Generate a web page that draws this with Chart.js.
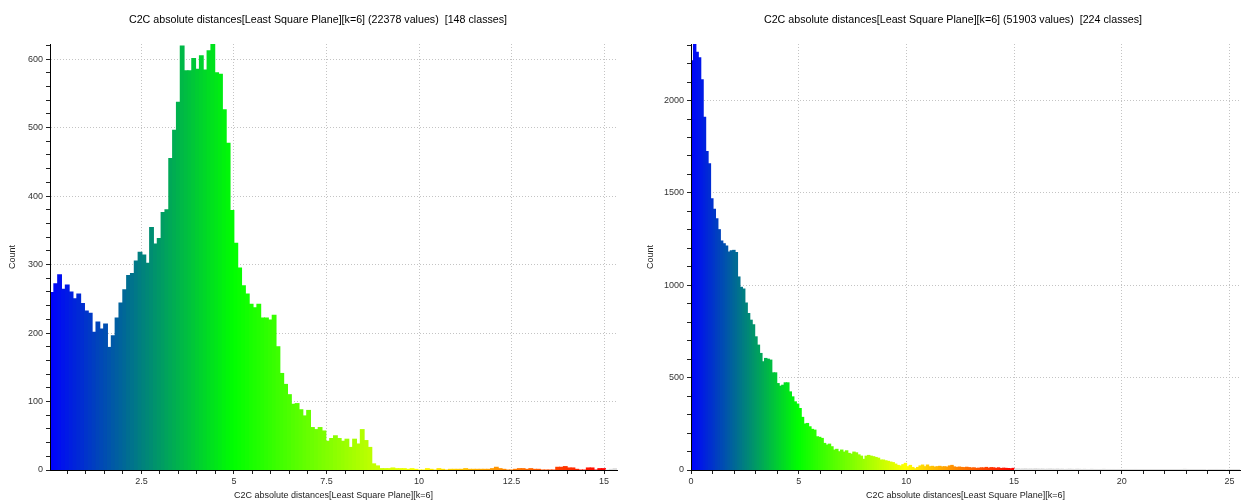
<!DOCTYPE html>
<html>
<head>
<meta charset="utf-8">
<script src="https://cdn.jsdelivr.net/npm/chart.js@4"></script>
<style>
  body { margin: 0; background: #fff; width: 1245px; height: 501px; overflow: hidden; position: relative; }
  canvas { position: absolute; top: 0; }
</style>
</head>
<body>
<canvas id="left-chart" width="636" height="501" style="left:0"></canvas>
<canvas id="right-chart" width="628" height="501" style="left:640px"></canvas>
<script>
//Left histogram (148 classes)
const leftStart = 0.03;
const leftBinWidth = 0.1035;
const leftCounts = [
  259, 272, 285, 264, 270, 260, 250, 257, 243, 232,
  229, 201, 216, 206, 213, 179, 196, 222, 244, 263,
  284, 287, 305, 318, 314, 302, 354, 330, 338, 376,
  380, 455, 496, 537, 619, 583, 583, 601, 585, 605,
  584, 612, 622, 580, 578, 526, 477, 379, 331, 295,
  269, 257, 242, 237, 242, 222, 222, 219, 226, 180,
  141, 125, 110, 96, 97, 88, 79, 87, 62, 59,
  62, 57, 42, 46, 50, 46, 42, 45, 33, 45,
  38, 59, 43, 33, 9, 6, 2, 2, 2, 3,
  2, 2, 2, 1, 2, 1, 0, 0, 2, 1,
  0, 2, 1, 0, 1, 1, 1, 1, 2, 1,
  1, 1, 1, 1, 1, 2, 4, 2, 1, 0,
  0, 1, 2, 2, 1, 2, 1, 1, 0, 0,
  0, 0, 4, 4, 5, 3, 3, 1, 0, 0,
  3, 3, 0, 2, 2, 0, 1, 2,
];
const leftXMajor = [2.5, 5, 7.5, 10, 12.5, 15];
const leftYMajor = [0, 100, 200, 300, 400, 500, 600];

//Right histogram (224 classes)
const rightStart = 0;
const rightBinWidth = 0.1138;
const rightCounts = [
  2216, 2306, 2261, 2231, 2112, 1910, 1724, 1658, 1468, 1411,
  1360, 1301, 1240, 1225, 1213, 1180, 1187, 1189, 1177, 1045,
  989, 980, 904, 847, 811, 786, 721, 676, 631, 586,
  604, 600, 595, 526, 526, 468, 454, 459, 472, 472,
  423, 396, 369, 357, 333, 285, 249, 252, 234, 220,
  216, 180, 177, 171, 144, 135, 140, 126, 108, 112,
  99, 108, 97, 104, 90, 86, 97, 93, 82, 75,
  58, 75, 79, 75, 72, 68, 64, 54, 54, 50,
  47, 43, 40, 32, 25, 22, 29, 36, 18, 25,
  14, 7, 14, 22, 27, 18, 27, 18, 20, 16,
  18, 20, 17, 18, 16, 22, 25, 17, 14, 16,
  14, 13, 15, 13, 11, 12, 9, 10, 12, 11,
  14, 10, 13, 12, 9, 12, 8, 10, 9, 8,
  7, 9, 6, 7, 5, 6, 7, 5, 6, 5,
  7, 6, 5, 6, 4, 5, 6, 5, 4, 6,
  4, 5, 3, 4, 5, 4, 3, 5, 4, 3,
  4, 3, 2, 4, 3, 3, 2, 3, 4, 2,
  3, 2, 3, 2, 3, 2, 2, 3, 1, 2,
  2, 3, 1, 2, 1, 2, 2, 1, 2, 1,
  2, 1, 2, 1, 1, 2, 1, 1, 2, 1,
  3, 4, 3, 2, 1, 2, 1, 1, 2, 1,
  0, 1, 2, 1, 3, 2, 1, 1, 0, 1,
  1, 2, 1, 1,
];
const rightXMajor = [0, 5, 10, 15, 20, 25];
const rightYMajor = [0, 500, 1000, 1500, 2000];

const FONT = "'Liberation Sans', Arial, sans-serif";

//Blue > Green > Yellow > Red, grey above the saturation value
function binColor(v) {
  if (v > 15) return "rgb(222,222,222)";
  let t = Math.max(0, v) / 5;
  let r, g, b;
  if (t <= 1) {
    r = 0; g = 255 * t; b = 255 * (1 - t);
  } else if (t <= 2) {
    r = 255 * (t - 1); g = 255; b = 0;
  } else {
    r = 255; g = 255 * (3 - t); b = 0;
  }
  return `rgb(${Math.round(r)},${Math.round(g)},${Math.round(b)})`;
}

function steps(from, to, step) {
  let out = [];
  for (let i = Math.ceil(from / step - 1e-9); i * step <= to + 1e-9; i++) out.push(+(i * step).toFixed(4));
  return out;
}

//Title drawn at a fixed centre so both headers sit where the original ones do
const headerPlugin = {
  id: "header",
  afterDraw(chart, args, opts) {
    const ctx = chart.ctx;
    ctx.save();
    ctx.font = `${opts.size}px ${FONT}`;
    ctx.fillStyle = "#000";
    ctx.textAlign = "center";
    ctx.textBaseline = "middle";
    ctx.fillText(opts.text, opts.x, opts.y);
    ctx.restore();
  },
};

function makeHistogram(canvasId, cfg) {
  let centers = cfg.counts.map((c, i) => cfg.start + (i + 0.5) * cfg.binWidth);
  let xMax = cfg.start + cfg.counts.length * cfg.binWidth;
  let xTicks = steps(0, xMax, cfg.xMinorStep).filter((v) => v >= cfg.start);
  let yTicks = steps(0, cfg.yMax, cfg.yMinorStep);
  let gridColor = (majors) => (ctx) => (majors.includes(ctx.tick.value) ? "#c4c4c4" : "rgba(0,0,0,0)");

  return new Chart(document.getElementById(canvasId), {
    type: "bar",
    plugins: [headerPlugin],
    data: {
      labels: centers,
      datasets: [
        {
          data: cfg.counts,
          backgroundColor: centers.map(binColor),
          borderWidth: 0,
          inflateAmount: 0.5,
          barPercentage: 1,
          categoryPercentage: 1,
        },
      ],
    },
    options: {
      responsive: false,
      animation: false,
      layout: { padding: { left: 0, right: cfg.padRight, top: 44, bottom: 0 } },
      plugins: {
        legend: { display: false },
        tooltip: { enabled: false },
        title: { display: false },
        header: { text: cfg.title, x: cfg.titleX, y: 20, size: 10.7 },
      },
      scales: {
        x: {
          type: "linear",
          min: cfg.start,
          max: xMax,
          offset: false,
          afterBuildTicks: (scale) => {
            scale.ticks = xTicks.map((v) => ({ value: v }));
          },
          afterFit: (scale) => {
            scale.height = 31;
          },
          ticks: {
            autoSkip: false,
            maxRotation: 0,
            padding: 2,
            color: "#333",
            font: { family: FONT, size: 9 },
            callback: (v) => (cfg.xMajor.includes(v) ? String(v) : ""),
          },
          grid: {
            color: gridColor(cfg.xMajor),
            tickColor: "#222",
            tickLength: 4,
            tickBorderDash: [],
            offset: false,
          },
          border: { color: "#000", width: 1, dash: [1, 2], z: 1 },
          title: {
            display: true,
            text: "C2C absolute distances[Least Square Plane][k=6]",
            color: "#222",
            font: { family: FONT, size: 9 },
            padding: { top: 0, bottom: 0 },
          },
        },
        y: {
          type: "linear",
          min: 0,
          max: cfg.yMax,
          afterBuildTicks: (scale) => {
            scale.ticks = yTicks.map((v) => ({ value: v }));
          },
          afterFit: (scale) => {
            scale.width = cfg.yWidth;
          },
          ticks: {
            autoSkip: false,
            padding: 3,
            color: "#333",
            font: { family: FONT, size: 9 },
            callback: (v) => (cfg.yMajor.includes(v) ? String(v) : ""),
          },
          grid: {
            color: gridColor(cfg.yMajor),
            tickColor: "#222",
            tickLength: 4,
            tickBorderDash: [],
          },
          border: { color: "#000", width: 1, dash: [1, 2], z: 1 },
          title: {
            display: true,
            text: "Count",
            color: "#222",
            font: { family: FONT, size: 9 },
            padding: { top: cfg.yTitlePad, bottom: 0 },
          },
        },
      },
    },
  });
}

makeHistogram("left-chart", {
  title: "C2C absolute distances[Least Square Plane][k=6] (22378 values)  [148 classes]",
  titleX: 318,
  counts: leftCounts,
  start: leftStart,
  binWidth: leftBinWidth,
  xMajor: leftXMajor,
  yMajor: leftYMajor,
  xMinorStep: 0.5,
  yMinorStep: 20,
  yMax: 622,
  yWidth: 50,
  yTitlePad: 7,
  padRight: 19,
});

makeHistogram("right-chart", {
  title: "C2C absolute distances[Least Square Plane][k=6] (51903 values)  [224 classes]",
  titleX: 313,
  counts: rightCounts,
  start: rightStart,
  binWidth: rightBinWidth,
  xMajor: rightXMajor,
  yMajor: rightYMajor,
  xMinorStep: 1,
  yMinorStep: 100,
  yMax: 2306,
  yWidth: 51,
  yTitlePad: 5,
  padRight: 28,
});
</script>
</body>
</html>
